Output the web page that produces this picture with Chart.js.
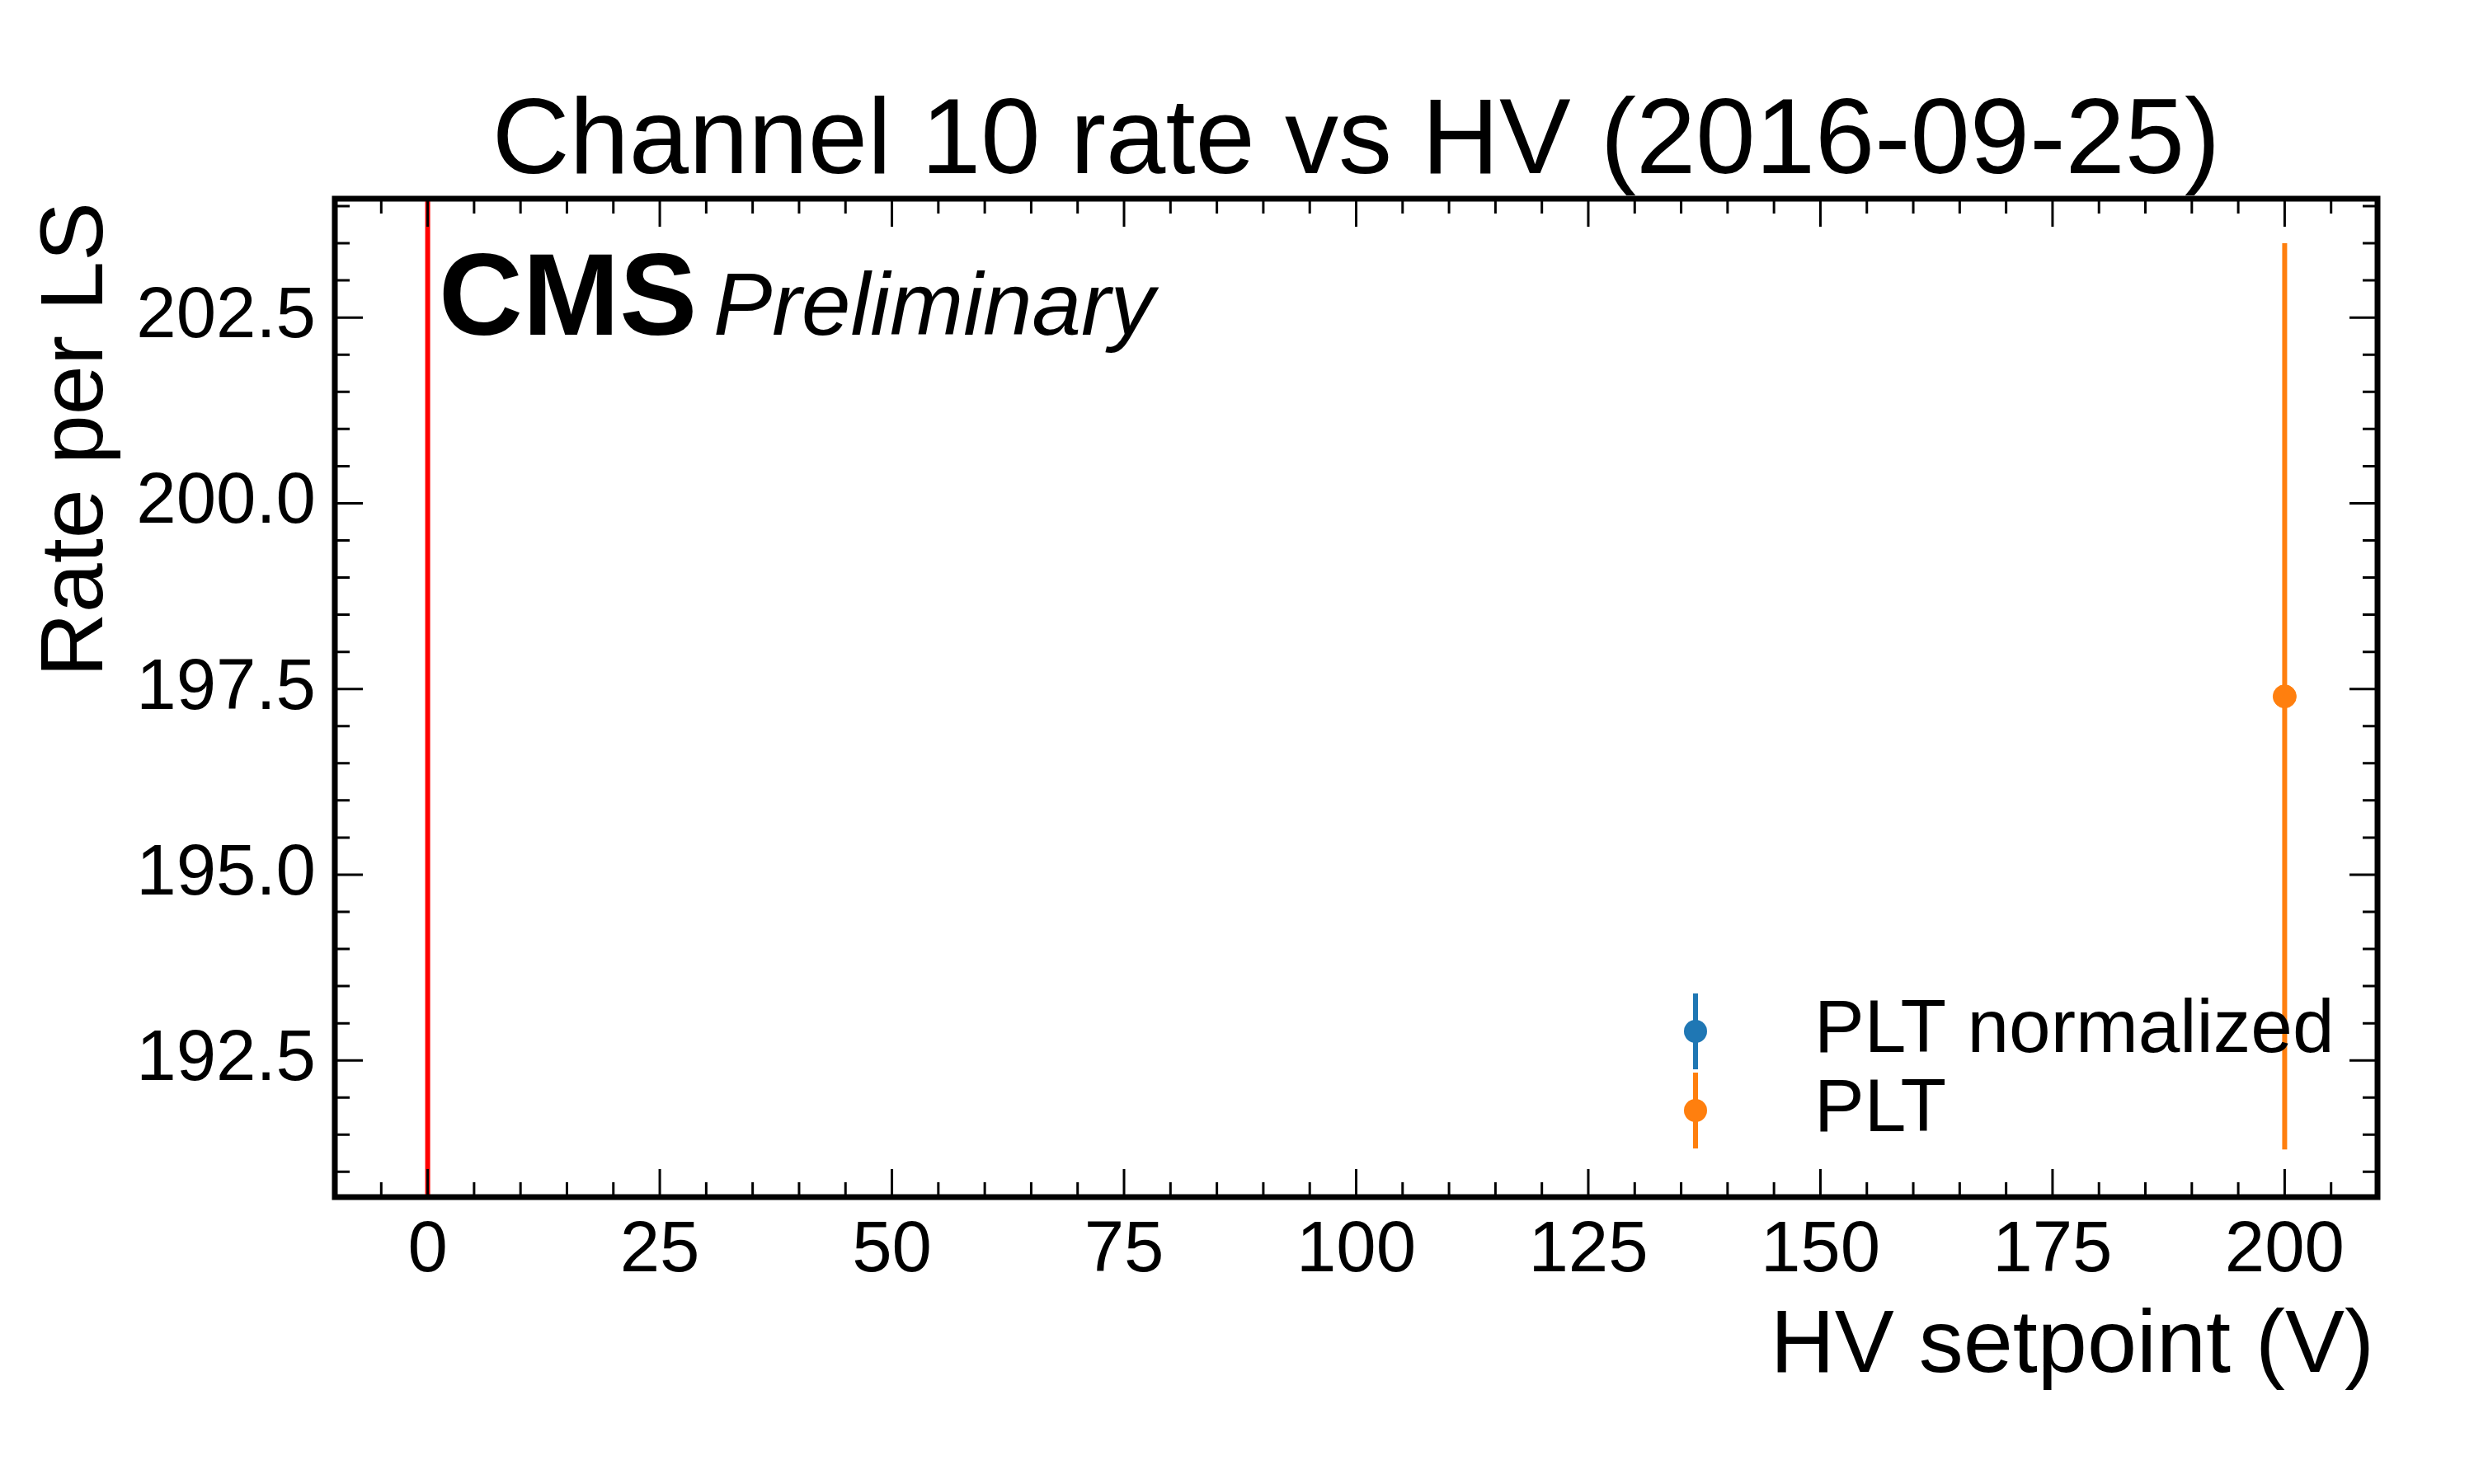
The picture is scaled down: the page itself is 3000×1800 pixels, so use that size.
<!DOCTYPE html>
<html>
<head>
<meta charset="utf-8">
<script src="https://cdn.jsdelivr.net/npm/chart.js@4.4.0/dist/chart.umd.min.js"></script>
<style>
  html, body { margin: 0; padding: 0; background: #fff; }
  #wrap { width: 3000px; height: 1800px; }
</style>
</head>
<body>
<div id="wrap"><canvas id="chart" width="3000" height="1800"></canvas></div>
<script>
// data
const hvSetpoints = [200];
const pltRate = [197.4];
const pltErr = [6.1];
const pltNormRate = [null];   // nothing visible for the normalized series
const pltNormErr = [null];
const xMajorTicks = [0, 25, 50, 75, 100, 125, 150, 175, 200];
const yMajorTicks = [192.5, 195.0, 197.5, 200.0, 202.5];
const xRange = [-10, 210];
const yRange = [190.66, 204.1];

const FONT = '"Liberation Sans", Arial, sans-serif';
const BLUE = '#1f77b4';
const ORANGE = '#ff7f0e';

function points(xs, ys) {
    return xs.map((x, i) => ({ x: x, y: ys[i] })).filter(p => p.y !== null);
}

// error bars + the red line at 0 V
const errorBars = {
    id: 'errorBars',
    beforeDatasetsDraw(chart) {
        const { ctx, scales: { x, y }, chartArea } = chart;
        ctx.save();
        ctx.lineWidth = 6;
        ctx.strokeStyle = 'red';
        ctx.beginPath();
        ctx.moveTo(x.getPixelForValue(0), chartArea.top);
        ctx.lineTo(x.getPixelForValue(0), chartArea.bottom);
        ctx.stroke();
        const sets = [[pltNormRate, pltNormErr, BLUE], [pltRate, pltErr, ORANGE]];
        sets.forEach(([vals, errs, col]) => {
            ctx.strokeStyle = col;
            hvSetpoints.forEach((hv, i) => {
                if (vals[i] === null) return;
                const px = x.getPixelForValue(hv);
                ctx.beginPath();
                ctx.moveTo(px, y.getPixelForValue(vals[i] - errs[i]));
                ctx.lineTo(px, y.getPixelForValue(vals[i] + errs[i]));
                ctx.stroke();
            });
        });
        ctx.restore();
    }
};

// frame, inward ticks, labels, legend, texts
const decorations = {
    id: 'decorations',
    afterDraw(chart) {
        const { ctx, scales: { x, y }, chartArea: a } = chart;
        ctx.save();
        ctx.strokeStyle = '#000';
        ctx.fillStyle = '#000';

        ctx.lineWidth = 3;
        const tick = (px, len, horiz) => {
            ctx.beginPath();
            if (horiz) {
                ctx.moveTo(px, a.bottom); ctx.lineTo(px, a.bottom - len);
                ctx.moveTo(px, a.top); ctx.lineTo(px, a.top + len);
            } else {
                ctx.moveTo(a.left, px); ctx.lineTo(a.left + len, px);
                ctx.moveTo(a.right, px); ctx.lineTo(a.right - len, px);
            }
            ctx.stroke();
        };
        for (let v = -10; v <= 210; v += 5) tick(x.getPixelForValue(v), v % 25 === 0 ? 34 : 18, true);
        for (let v = 191; v <= 204; v += 0.5) {
            const major = Math.abs((v * 2) % 5) < 1e-9;
            tick(y.getPixelForValue(v), major ? 34 : 18, false);
        }

        ctx.lineWidth = 7;
        ctx.strokeRect(a.left, a.top, a.right - a.left, a.bottom - a.top);

        ctx.font = '87px ' + FONT;
        ctx.textAlign = 'center';
        ctx.textBaseline = 'alphabetic';
        xMajorTicks.forEach(v => ctx.fillText(String(v), x.getPixelForValue(v), 1542));
        ctx.textAlign = 'right';
        ctx.textBaseline = 'middle';
        yMajorTicks.forEach(v => ctx.fillText(v.toFixed(1), 383, y.getPixelForValue(v)));

        ctx.font = '108px ' + FONT;
        ctx.textBaseline = 'alphabetic';
        ctx.textAlign = 'right';
        ctx.fillText('HV setpoint (V)', a.right - 4, 1664);
        ctx.save();
        ctx.translate(124, a.top + 4);
        ctx.rotate(-Math.PI / 2);
        ctx.fillText('Rate per LS', 0, 0);
        ctx.restore();

        ctx.font = '130px ' + FONT;
        ctx.textAlign = 'center';
        ctx.fillText('Channel 10 rate vs HV (2016-09-25)', (a.left + a.right) / 2, 210);

        ctx.textAlign = 'left';
        ctx.font = 'bold 141px ' + FONT;
        ctx.fillText('CMS', 532, 406);
        ctx.font = 'italic 107px ' + FONT;
        ctx.fillText('Preliminary', 865, 406);

        const legend = [['PLT normalized', BLUE, 1251], ['PLT', ORANGE, 1347]];
        ctx.font = '91px ' + FONT;
        ctx.textBaseline = 'middle';
        legend.forEach(([label, col, ly]) => {
            ctx.strokeStyle = col;
            ctx.fillStyle = col;
            ctx.lineWidth = 6;
            ctx.beginPath();
            ctx.moveTo(2056, ly - 46); ctx.lineTo(2056, ly + 46);
            ctx.stroke();
            ctx.beginPath();
            ctx.arc(2056, ly, 14, 0, 2 * Math.PI);
            ctx.fill();
            ctx.fillStyle = '#000';
            ctx.fillText(label, 2200, ly);
        });
        ctx.restore();
    }
};

new Chart(document.getElementById('chart'), {
    type: 'scatter',
    data: {
        datasets: [
            { label: 'PLT normalized', data: points(hvSetpoints, pltNormRate),
              backgroundColor: BLUE, borderColor: BLUE, pointRadius: 14 },
            { label: 'PLT', data: points(hvSetpoints, pltRate),
              backgroundColor: ORANGE, borderColor: ORANGE, pointRadius: 14 }
        ]
    },
    options: {
        responsive: false,
        animation: false,
        devicePixelRatio: 1,
        layout: { padding: { left: 406, right: 117, top: 241, bottom: 348 } },
        plugins: { legend: { display: false }, tooltip: { enabled: false } },
        scales: {
            x: { type: 'linear', min: xRange[0], max: xRange[1], display: false },
            y: { type: 'linear', min: yRange[0], max: yRange[1], display: false }
        }
    },
    plugins: [errorBars, decorations]
});
</script>
</body>
</html>
